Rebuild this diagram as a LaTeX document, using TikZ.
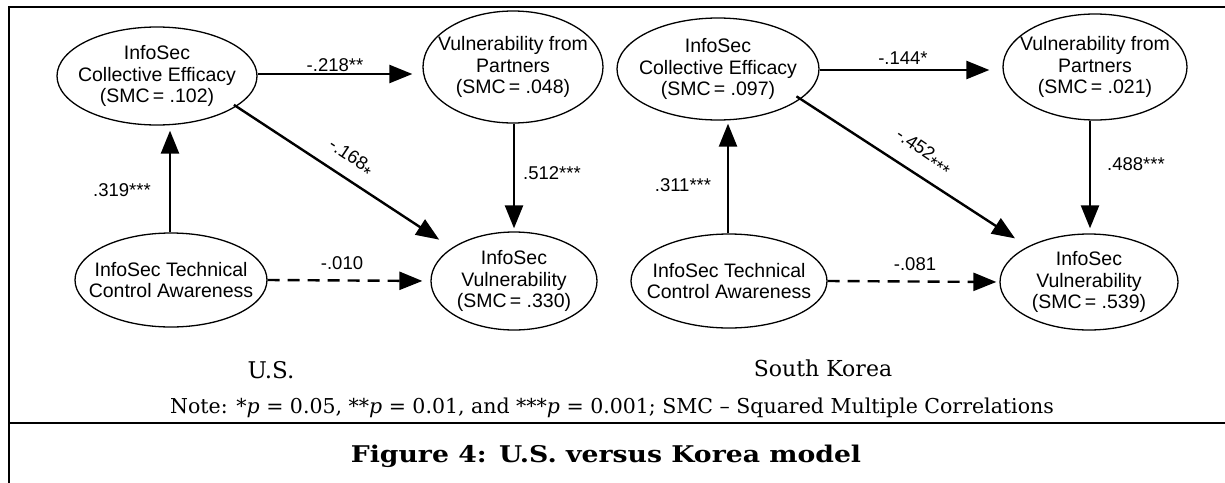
\documentclass[tikz,border=0pt]{standalone}
\usepackage{fontspec}
\setmainfont{DejaVu Serif}
\newfontfamily\arialf{Liberation Sans}
\usetikzlibrary{arrows.meta,shapes.geometric}
\begin{document}
\begin{tikzpicture}[x=1pt,y=-1pt,
  lat/.style={ellipse, draw, line width=1.3pt, inner sep=0pt},
  lbl/.style={align=center, inner sep=0pt, font=\arialf\fontsize{19.5}{21.5}\selectfont},
  pathar/.style={line width=2.4pt, -{Triangle[length=23pt,width=18pt]}},
  dpathar/.style={pathar, dash pattern=on 12pt off 8pt},
  coef/.style={font=\arialf\fontsize{18.5}{20}\selectfont, inner sep=0pt},
  serif/.style={inner sep=0pt, anchor=base},
  framel/.style={line width=2.5pt}
]
\useasboundingbox (0,0) rectangle (1225,482);
% frame
\coordinate (ftl) at (9,7);
\coordinate (ftr) at (1226,7);
\coordinate (fbl) at (9,483);
\coordinate (frl) at (9,423);
\coordinate (frr) at (1226,423);
\draw[framel] (ftr) -- (ftl) -- (fbl);
\draw[framel] (frl) -- (frr);

% ---------- U.S. model ----------
\node[lat, minimum width=200pt, minimum height=98pt] (usce) at (157,76) {};
\node[lbl] (usce-t) at (usce) {InfoSec\\Collective Efficacy\\(SMC\,= .102)};
\node[lat, minimum width=180pt, minimum height=112pt] (uspa) at (513,67) {};
\node[lbl] (uspa-t) at (uspa) {Vulnerability from\\Partners\\(SMC\,= .048)};
\node[lat, minimum width=192pt, minimum height=94pt] (ustc) at (171,280) {};
\node[lbl] (ustc-t) at (ustc) {InfoSec Technical\\Control Awareness};
\node[lat, minimum width=166pt, minimum height=98pt] (usvu) at (514,281) {};
\node[lbl] (usvu-t) at (usvu) {InfoSec\\Vulnerability\\(SMC\,= .330)};

\draw[pathar, shorten >=10pt] (usce.east |- 0,74) -- (uspa.west |- 0,74);
\draw[pathar, shorten >=5pt] (ustc.north -| 170,0) -- (usce.south -| 170,0);
\draw[pathar, shorten >=3pt] (uspa.south -| 514,0) -- (usvu.north -| 514,0);
\draw[pathar, shorten <=-3pt, shorten >=15pt] (usce.-21) -- (usvu.152);
\draw[dpathar, shorten >=8pt] (ustc.east) -- (usvu.west);

\node[coef] (l1) at (335,65) {-.218**};
\node[coef] (l2) at (122,190) {.319***};
\node[coef] (l3) at (552,173) {.512***};
\node[coef] (l4) at (342,263) {-.010};
\node[coef, rotate=-33.7] (l5) at (350,159) {-.168\raisebox{-0.35em}{*}};

% ---------- South Korea model ----------
\node[lat, minimum width=202pt, minimum height=102pt] (krce) at (718,69) {};
\node[lbl] (krce-t) at (krce) {InfoSec\\Collective Efficacy\\(SMC\,= .097)};
\node[lat, minimum width=184pt, minimum height=106pt] (krpa) at (1095,67) {};
\node[lbl] (krpa-t) at (krpa) {Vulnerability from\\Partners\\(SMC\,= .021)};
\node[lat, minimum width=196pt, minimum height=94pt] (krtc) at (729,281) {};
\node[lbl] (krtc-t) at (krtc) {InfoSec Technical\\Control Awareness};
\node[lat, minimum width=178pt, minimum height=96pt] (krvu) at (1089,282) {};
\node[lbl] (krvu-t) at (krvu) {InfoSec\\Vulnerability\\(SMC\,= .539)};

\draw[pathar, shorten >=13pt] (krce.east |- 0,70) -- (krpa.west |- 0,70);
\draw[pathar, shorten >=3pt] (krtc.north -| 728,0) -- (krce.south -| 728,0);
\draw[pathar, shorten >=5pt] (krpa.south -| 1090,0) -- (krvu.north -| 1090,0);
\draw[pathar, shorten <=-5pt, shorten >=15pt] (krce.-20) -- (krvu.150);
\draw[dpathar, shorten >=3pt] (krtc.east) -- (krvu.west);

\node[coef] (k1) at (903,58) {-.144*};
\node[coef] (k2) at (683,185) {.311***};
\node[coef] (k3) at (1136,164) {.488***};
\node[coef] (k4) at (915,264) {-.081};
\node[coef, rotate=-34] (k5) at (923,153) {-.452\raisebox{-0.35em}{***}};

% ---------- captions ----------
\node[serif, font=\fontsize{23}{25}\selectfont] (us) at (271,378) {U.S.};
\node[serif, font=\fontsize{22}{24}\selectfont] (sk) at (823,376) {South Korea};
\node[serif, font=\fontsize{20.5}{22}\selectfont] (note) at (612,413) {Note: *\textit{p} = 0.05, **\textit{p} = 0.01, and ***\textit{p} = 0.001; SMC – Squared Multiple Correlations};
\node[serif, xscale=1.16, transform shape, font=\bfseries\fontsize{23}{25}\selectfont] (fig) at (606,462) {Figure 4: U.S. versus Korea model};
\end{tikzpicture}
\end{document}
